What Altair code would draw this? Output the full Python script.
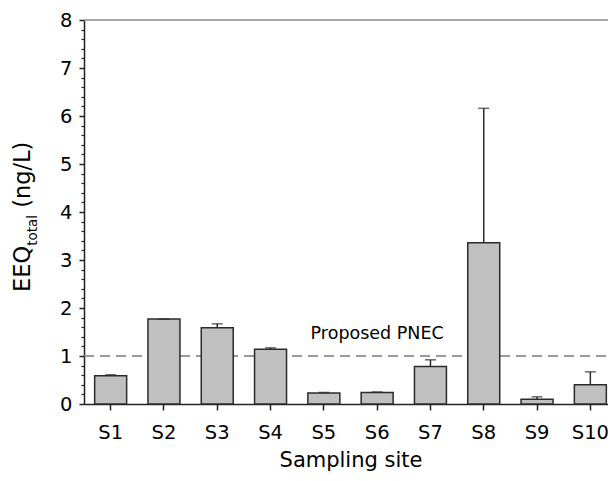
import altair as alt
import pandas as pd

sites = ["S1", "S2", "S3", "S4", "S5", "S6", "S7", "S8", "S9", "S10"]
means = [0.59, 1.77, 1.59, 1.14, 0.23, 0.24, 0.78, 3.36, 0.10, 0.40]
errors = [0.02, 0.0, 0.08, 0.03, 0.01, 0.01, 0.14, 2.80, 0.05, 0.27]
major_ticks = [0, 1, 2, 3, 4, 5, 6, 7, 8]
minor_ticks = [0.2, 0.4, 0.6, 0.8, 1.2, 1.4, 1.6, 1.8, 2.2, 2.4, 2.6, 2.8,
               3.2, 3.4, 3.6, 3.8, 4.2, 4.4, 4.6, 4.8, 5.2, 5.4, 5.6, 5.8,
               6.2, 6.4, 6.6, 6.8, 7.2, 7.4, 7.6, 7.8]
pnec = [1.0]
pnec_label = "Proposed PNEC"
pnec_label_pos = ["S6", 1.35]

FONT = "DejaVu Sans"
XR = 533
W = 524
H = 384

df = pd.DataFrame({"site": sites, "mean": means, "err": errors})
df["upper"] = df["mean"] + df["err"]

yscale = alt.Scale(domain=[0, 8], nice=False)
xscale = alt.Scale(range=[0, XR], paddingInner=0.4, paddingOuter=0.2)

xenc = alt.X("site:N", sort=sites, scale=xscale,
             axis=alt.Axis(title="Sampling site", labelAngle=0, tickSize=6,
                           labelPadding=13, labelFontSize=19.5, titleFontSize=21,
                           titleFontWeight="normal", titleBaseline="alphabetic",
                           titleY=62, titleX=XR / 2, titleAlign="center",
                           domainColor="#222", tickColor="#222",
                           domainWidth=1.5, tickWidth=1.5,
                           labelColor="#000", titleColor="#000",
                           labelFont=FONT, titleFont=FONT))

base = alt.Chart(df)

bars = base.mark_bar(fill="#c0c0c0", stroke="#2b2b2b", strokeWidth=1.5).encode(
    x=xenc,
    y=alt.Y("mean:Q", scale=yscale,
            axis=alt.Axis(values=major_ticks, title=None, orient="left",
                          tickSize=5, labelPadding=7, labelFontSize=19.5,
                          labelFont=FONT, labelColor="#000",
                          domainColor="#222", tickColor="#222",
                          domainWidth=1.5, tickWidth=1.5, grid=False)),
)

err_rule = base.mark_rule(color="#2b2b2b", strokeWidth=1.5).encode(
    x=alt.X("site:N", sort=sites, scale=xscale),
    y=alt.Y("mean:Q", scale=yscale,
            axis=alt.Axis(values=minor_ticks, labels=False, title=None,
                          orient="left", tickSize=3, domain=False,
                          tickColor="#222", tickWidth=1.2, grid=False)),
    y2="upper:Q",
)

caps = base.mark_tick(color="#2b2b2b", size=11, thickness=1.5).encode(
    x=alt.X("site:N", sort=sites, scale=xscale),
    y=alt.Y("upper:Q", scale=yscale, axis=None),
)

pnec_df = pd.DataFrame({"pnec": pnec})
pnec_line = alt.Chart(pnec_df).mark_rule(
    color="#7a7a7a", strokeWidth=1.5, strokeDash=[10, 6]
).encode(
    y=alt.Y("pnec:Q", scale=yscale, axis=None),
    x=alt.value(0), x2=alt.value(XR),
)

lab_df = pd.DataFrame({"site": [pnec_label_pos[0]], "yv": [pnec_label_pos[1]],
                       "t": [pnec_label]})
pnec_text = alt.Chart(lab_df).mark_text(
    font=FONT, fontSize=17.5, align="center", baseline="alphabetic", color="#000"
).encode(
    x=alt.X("site:N", sort=sites, scale=xscale),
    y=alt.Y("yv:Q", scale=yscale, axis=None),
    text="t:N",
)

one = pd.DataFrame({"a": [0]})
top_line = alt.Chart(one).mark_rule(color="#888888", strokeWidth=1.5).encode(
    x=alt.value(0), x2=alt.value(XR), y=alt.value(0)
)

y_start = 272
big = 22.5
small = 13.5
eeq_len = big * 2.051
tot_len = small * 2.287
space = big * 0.318
t1 = alt.Chart(one).mark_text(text="EEQ", angle=270, align="left",
                              baseline="alphabetic", font=FONT, fontSize=big,
                              color="#000").encode(
    x=alt.value(-54), y=alt.value(y_start))
t2 = alt.Chart(one).mark_text(text="total", angle=270, align="left",
                              baseline="alphabetic", font=FONT, fontSize=small,
                              color="#000").encode(
    x=alt.value(-47), y=alt.value(y_start - eeq_len))
t3 = alt.Chart(one).mark_text(text="(ng/L)", angle=270, align="left",
                              baseline="alphabetic", font=FONT, fontSize=big,
                              color="#000").encode(
    x=alt.value(-54), y=alt.value(y_start - eeq_len - tot_len - space))

chart = alt.layer(
    top_line, pnec_line, bars, err_rule, caps, pnec_text, t1, t2, t3
).resolve_axis(y="independent").properties(
    width=W, height=H,
    padding={"left": 76, "top": 12, "right": 0, "bottom": 69},
    autosize=alt.AutoSizeParams(type="none"),
).configure_view(stroke=None).configure_axis(grid=False)

chart.save("out.html", embed_options={"renderer": "svg", "actions": False})
